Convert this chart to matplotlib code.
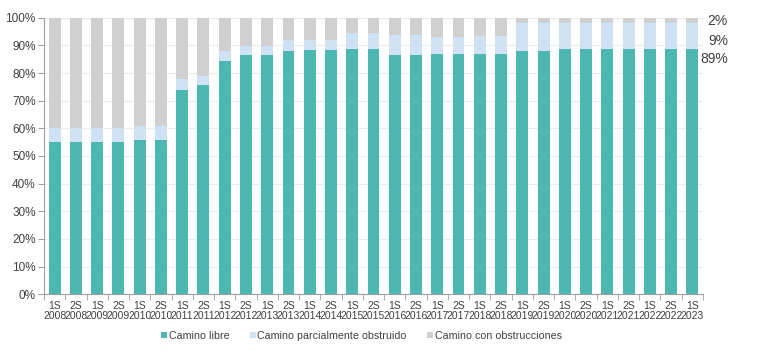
import numpy as np
import matplotlib
matplotlib.use("Agg")
import matplotlib.pyplot as plt

plt.rcParams['font.family'] = ['Liberation Sans', 'DejaVu Sans']

# periods
semestres = ['1S', '2S'] * 15 + ['1S']
anios = [str(2008 + i // 2) for i in range(31)]
etiquetas = [s + '\n' + a for s, a in zip(semestres, anios)]

# % camino libre
libre = [55.0, 55.0, 55.0, 55.0, 55.8, 55.8, 73.9, 75.7, 84.3, 86.5,
         86.5, 88.0, 88.3, 88.3, 88.7, 88.7, 86.5, 86.5, 86.9, 86.9,
         86.9, 86.9, 88.0, 88.0, 88.7, 88.7, 88.7, 88.7, 88.7, 88.7, 88.7]
# % camino parcialmente obstruido
parcial = [5.0, 5.0, 5.0, 5.0, 5.0, 5.0, 3.9, 3.2, 3.7, 3.4,
           3.3, 3.9, 3.6, 3.6, 5.8, 5.8, 7.2, 7.2, 6.1, 6.1,
           6.5, 6.5, 10.1, 10.1, 9.4, 9.4, 9.4, 9.4, 9.4, 9.4, 9.4]
# % camino con obstrucciones
obstruido = [100 - a - b for a, b in zip(libre, parcial)]

ultimo = ['2%', '9%', '89%']

c_libre = '#4DB8B2'
c_parcial = '#CFE2F3'
c_obst = '#D0D0D0'
gris = '#404040'

fig = plt.figure(figsize=(7.64, 3.55), dpi=100)
ax = fig.add_axes([44 / 764, 1 - 294.3 / 355, 659 / 764, 276.6 / 355])

x = np.arange(len(libre))
w = 0.56
libre = np.array(libre)
parcial = np.array(parcial)
obstruido = np.array(obstruido)
ax.bar(x, libre, w, color=c_libre, label='Camino libre', zorder=2)
ax.bar(x, parcial, w, bottom=libre, color=c_parcial, label='Camino parcialmente obstruido', zorder=2)
ax.bar(x, obstruido, w, bottom=libre + parcial, color=c_obst, label='Camino con obstrucciones', zorder=2)

ax.set_xlim(-0.5, len(libre) - 0.5)
ax.set_ylim(0, 100)
ax.set_yticks(np.arange(0, 101, 10))
ax.set_yticklabels([f'{v}%' for v in range(0, 101, 10)])
ax.yaxis.grid(True, color='#EBEBEB', linewidth=0.8, zorder=0)
ax.set_axisbelow(True)

ax.set_xticks(x)
ax.set_xticklabels(etiquetas, linespacing=0.95)
ax.set_xticks(np.arange(-0.5, len(libre), 1), minor=True)
ax.tick_params(axis='x', which='major', length=0, labelsize=7.5, colors=gris, pad=5)
ax.tick_params(axis='x', which='minor', length=4, color='#A0A0A0', direction='out')
ax.tick_params(axis='y', labelsize=8.5, colors=gris, length=4, color='#A0A0A0', pad=2)

for s in ['top', 'right']:
    ax.spines[s].set_visible(False)
ax.spines['left'].set_color('#A0A0A0')
ax.spines['bottom'].set_color('#A0A0A0')

# labels of the last bar, at the right
for txt, yy in zip(ultimo, [21, 41, 59]):
    fig.text(728 / 764, 1 - yy / 355, txt, ha='right', va='center', fontsize=10, color=gris)

leg = fig.legend(loc='center', bbox_to_anchor=(361.5 / 764, 1 - 336 / 355), ncol=3, frameon=False,
                 fontsize=7.7, handlelength=0.55, handleheight=0.55, handletextpad=0.15,
                 columnspacing=1.9)
for t in leg.get_texts():
    t.set_color(gris)

fig.savefig('out.png', dpi=100)
